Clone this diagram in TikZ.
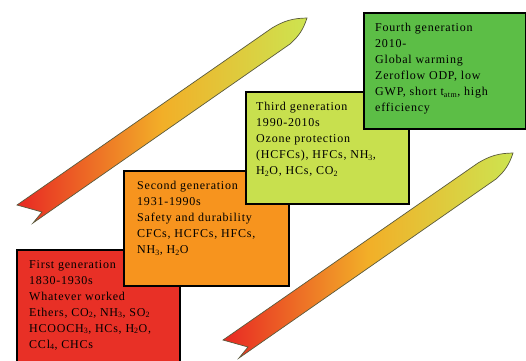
\documentclass[tikz,border=0pt]{standalone}
\usepackage{fontspec}
\setmainfont{Liberation Serif}
\newfontfamily\genfont{Liberation Serif}[LetterSpace=6.5]
\usetikzlibrary{positioning}

\definecolor{genred}{RGB}{232,48,38}
\definecolor{genorange}{RGB}{247,148,30}
\definecolor{genlime}{RGB}{200,224,78}
\definecolor{gengreen}{RGB}{92,190,70}
\definecolor{tailred}{RGB}{232,40,35}
\definecolor{midorange}{RGB}{242,175,40}
\definecolor{tiplime}{RGB}{205,228,80}
\definecolor{arrowedge}{RGB}{90,90,60}

\begin{document}
\begin{tikzpicture}[x=1pt, y=-1pt,
        genbox/.style={rectangle, draw=black, line width=1.6pt, anchor=north west, inner sep=0pt},
        gentext/.style={inner sep=0pt, align=left, font=\genfont\fontsize{12}{16}\selectfont},
        timearrow/.style={draw=arrowedge, line width=0.7pt, left color=tailred, right color=tiplime, middle color=midorange}
    ]
    \clip (0,0) rectangle (526,360);

    % Time arrows
    \shade[timearrow] (17,205) -- (272,28) to[bend left=15] (307,18) to[bend left=15] (290,44) -- (33,223) -- (42,212) -- cycle;
    \shade[timearrow, shift={(206,135)}] (17,205) -- (272,28) to[bend left=15] (307,18) to[bend left=15] (290,44) -- (33,223) -- (42,212) -- cycle;

    % Generations
    \node[genbox, fill=genred, minimum width=163pt, minimum height=120pt] (gen1) at (16,249) {};
    \node[gentext, below right=11pt and 13pt of gen1.north west] (gen1text) {First generation\\1830-1930s\\Whatever worked\\Ethers, CO\textsubscript{2}, NH\textsubscript{3}, SO\textsubscript{2}\\HCOOCH\textsubscript{3}, HCs, H\textsubscript{2}O,\\CCl\textsubscript{4}, CHCs};

    \node[genbox, fill=genorange, minimum width=165pt, minimum height=115pt] (gen2) at (123,170) {};
    \node[gentext, below right=11pt and 14pt of gen2.north west] (gen2text) {Second generation\\1931-1990s\\Safety and durability\\CFCs, HCFCs, HFCs,\\NH\textsubscript{3}, H\textsubscript{2}O};

    \node[genbox, fill=genlime, minimum width=163pt, minimum height=112pt] (gen3) at (245,91) {};
    \node[gentext, below right=11pt and 11pt of gen3.north west] (gen3text) {Third generation\\1990-2010s\\Ozone protection\\(HCFCs), HFCs, NH\textsubscript{3},\\H\textsubscript{2}O, HCs, CO\textsubscript{2}};

    \node[genbox, fill=gengreen, minimum width=162pt, minimum height=116pt] (gen4) at (363,12) {};
    \node[gentext, below right=11pt and 12pt of gen4.north west] (gen4text) {Fourth generation\\2010-\\Global warming\\Zeroflow ODP, low\\GWP, short t\textsubscript{atm}, high\\efficiency};

\end{tikzpicture}
\end{document}
